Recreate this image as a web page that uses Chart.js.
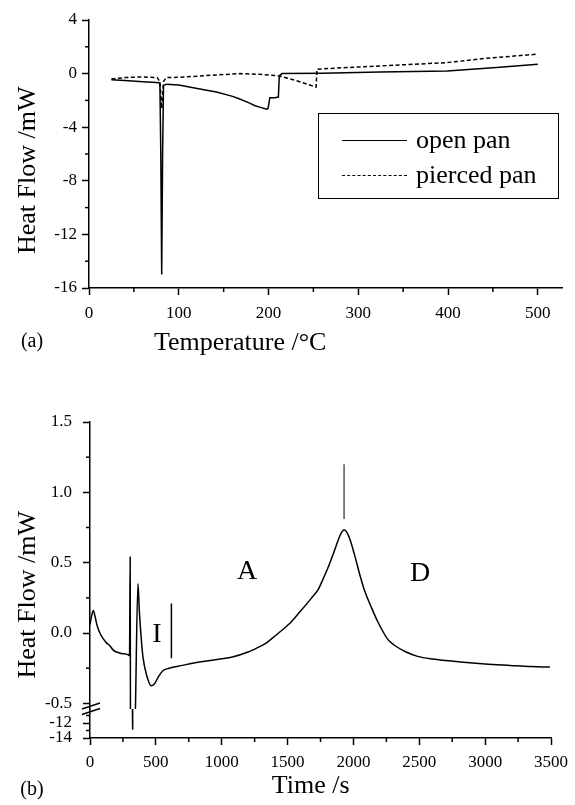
<!DOCTYPE html>
<html><head><meta charset="utf-8">
<script src="https://cdn.jsdelivr.net/npm/chart.js@4/dist/chart.umd.min.js"></script>
<style>
html,body{margin:0;padding:0;background:#fff;}
body{width:575px;height:805px;position:relative;overflow:hidden;font-family:"Liberation Serif","Times New Roman",serif;color:#000;}
canvas{position:absolute;left:0;}
#ca{top:0;}
#cb{top:360px;}
.lbl{position:absolute;white-space:nowrap;line-height:1;transform:translate(-50%,-50%);}
#legend{position:absolute;left:318px;top:113px;width:241px;height:86px;border:1.5px solid #000;box-sizing:border-box;font-size:26px;}
.row{position:absolute;left:0;height:26px;display:flex;align-items:center;}
.sample{width:65px;margin-left:23px;margin-right:9px;height:0;}
</style>
</head><body>
<canvas id="ca" width="575" height="360"></canvas>
<canvas id="cb" width="575" height="445"></canvas>
<div id="legend">
  <div class="row" style="top:13px"><div class="sample" style="border-top:1.5px solid #000"></div><span>open pan</span></div>
  <div class="row" style="top:48px"><div class="sample" style="border-top:1.5px dashed #000"></div><span>pierced pan</span></div>
</div>
<div class="lbl" style="left:32px;top:340px;font-size:20px">(a)</div>
<div class="lbl" style="left:32px;top:788px;font-size:20px">(b)</div>
<div class="lbl" style="left:247px;top:570px;font-size:28px">A</div>
<div class="lbl" style="left:420px;top:572px;font-size:28px">D</div>
<div class="lbl" style="left:157px;top:633px;font-size:28px">I</div>
<script>
// ---------- (a) DSC vs temperature ----------
const openT  = [25,40,60,75,79,80,81,82,83,86,100,131,142,160,168,179,185,190,198,199.5,201.5,207,211,212,215,260,324,399,454,500];
const openHF = [-0.45,-0.52,-0.6,-0.67,-0.7,-6,-15,-6,-0.9,-0.79,-0.85,-1.24,-1.38,-1.7,-1.9,-2.2,-2.4,-2.5,-2.66,-2.6,-1.8,-1.8,-1.75,-0.17,0.0,0.03,0.12,0.2,0.45,0.7];
const piercedT  = [25,40,57,76,79,81,83,86,100,130,168,190,211,213,230,253,254,287,324,399,443,500];
const piercedHF = [-0.4,-0.3,-0.25,-0.3,-0.6,-2.6,-0.6,-0.3,-0.28,-0.15,0.0,-0.05,-0.17,-0.2,-0.5,-1.0,0.33,0.45,0.57,0.82,1.15,1.45];
const aXMajor = [0,100,200,300,400,500];
const aXMinor = [50,150,250,350,450];
const aYMajor = [-16,-12,-8,-4,0,4];
const aYMinor = [-14,-10,-6,-2,2];

// ---------- (b) DSC vs time ----------
const timeS = [0,12,25,40,55,75,100,125,151,175,201,240,289,300,305,307,326,345,364,375,390,402,430,465,490,520,551,600,700,829,950,1081,1200,1280,1331,1380,1432,1507,1582,1683,1733,1770,1809,1850,1884,1910,1929,1950,1972,2010,2047,2085,2135,2185,2261,2311,2400,2487,2600,2813,3000,3190,3350,3492];
const heatB = [0.06,0.12,0.16,0.11,0.05,0.0,-0.04,-0.07,-0.09,-0.12,-0.135,-0.145,-0.154,-0.16,0.54,-0.54,null,-0.54,0.35,0.15,-0.05,-0.17,-0.3,-0.375,-0.36,-0.31,-0.27,-0.25,-0.23,-0.206,-0.19,-0.17,-0.135,-0.1,-0.075,-0.04,0.0,0.06,0.138,0.25,0.31,0.385,0.469,0.57,0.66,0.715,0.735,0.715,0.67,0.55,0.42,0.3,0.185,0.08,-0.045,-0.087,-0.135,-0.166,-0.185,-0.206,-0.22,-0.23,-0.238,-0.242];
const spikeT = [322,324];
const spikeHF = [-10.1,-12.9];
const markIT = [618,618];
const markIHF = [0.21,-0.18];
const markPeakT = [1929,1929];
const markPeakHF = [1.20,0.81];
const bXMajor = [0,500,1000,1500,2000,2500,3000,3500];
const bXMinor = [250,750,1250,1750,2250,2750,3250];
const bYMajor = [-0.5,0.0,0.5,1.0,1.5];
const bYMinor = [-0.25,0.25,0.75,1.25];
const bYLowMajor = [-14,-12];
const bYLowMinor = [-13,-11];

Chart.defaults.font.family = '"Liberation Serif","Times New Roman",serif';
Chart.defaults.color = '#000';

const pts = (xs, ys) => xs.map((x, i) => ({x: x, y: ys[i]}));
const MAJOR_LEN = 7, MINOR_LEN = 4;
const TICK_FONT = {size: 17};
const TITLE_FONT = {size: 26};

function setTicks(majors, minors) {
  return function(scale) {
    const all = majors.map(v => ({value: v, minor: false}))
      .concat(minors.map(v => ({value: v, minor: true})));
    all.sort((a, b) => a.value - b.value);
    scale.ticks = all;
  };
}
function axis(extra) {
  const base = {
    type: 'linear',
    grid: {display: true, drawOnChartArea: false, drawTicks: true, tickLength: MAJOR_LEN, tickWidth: 1.5,
      tickColor: c => (c.tick && c.tick.minor) ? 'rgba(0,0,0,0)' : '#000'},
    border: {display: true, color: '#000', width: 1.5}
  };
  return Object.assign(base, extra);
}
const minorTicks = {
  id: 'minorTicks',
  afterDraw(chart) {
    const ctx = chart.ctx;
    ctx.save();
    ctx.strokeStyle = '#000';
    ctx.lineWidth = 1.5;
    Object.values(chart.scales).forEach(s => {
      (s.ticks || []).forEach(t => {
        if (!t.minor) return;
        const p = s.getPixelForValue(t.value);
        ctx.beginPath();
        if (s.isHorizontal()) { ctx.moveTo(p, s.top); ctx.lineTo(p, s.top + MINOR_LEN); }
        else { ctx.moveTo(s.right, p); ctx.lineTo(s.right - MINOR_LEN, p); }
        ctx.stroke();
      });
    });
    ctx.restore();
  }
};
const lineDs = (label, data, extra) => Object.assign({
  label: label, data: data, borderColor: '#000', borderWidth: 1.5, pointRadius: 0,
  tension: 0, fill: false, spanGaps: false
}, extra || {});
const tickOpts = (pad, fmt) => ({autoSkip: false, maxRotation: 0, font: TICK_FONT, color: '#000', padding: pad,
  callback: (v, i, t) => t[i].minor ? '' : fmt(v)});

// ---------- chart (a) ----------
new Chart(document.getElementById('ca'), {
  type: 'line',
  data: {datasets: [
    lineDs('open pan', pts(openT, openHF)),
    lineDs('pierced pan', pts(piercedT, piercedHF), {borderDash: [4, 2.5]})
  ]},
  options: {
    responsive: false, animation: false, events: [],
    layout: {padding: {left: 0, top: 20, right: 13, bottom: 0}},
    plugins: {legend: {display: false}, tooltip: {enabled: false}},
    scales: {
      x: axis({min: 0, max: 527, afterBuildTicks: setTicks(aXMajor, aXMinor),
        afterFit: s => { s.height = 72; },
        ticks: tickOpts(8, v => String(v)),
        title: {display: true, align: 'start', text: '          Temperature /°C', font: TITLE_FONT, padding: {top: 0, bottom: 1}}}),
      y: axis({min: -16, max: 4, afterBuildTicks: setTicks(aYMajor, aYMinor),
        afterFit: s => { s.width = 89; },
        ticks: tickOpts(5, v => String(v)),
        title: {display: true, text: 'Heat Flow /mW     ', font: TITLE_FONT, padding: {top: 13, bottom: 0}}})
    }
  },
  plugins: [minorTicks]
});

// ---------- chart (b) ----------
const breakMarks = {
  id: 'breakMarks',
  afterDraw(chart) {
    const s = chart.scales.yUp;
    const ctx = chart.ctx;
    const x = s.right, y = s.bottom;
    ctx.save();
    ctx.strokeStyle = '#000';
    ctx.lineWidth = 1.5;
    [-3, 2.5].forEach(d => {
      ctx.beginPath();
      ctx.moveTo(x - 8, y + d + 3);
      ctx.lineTo(x + 10, y + d - 3);
      ctx.stroke();
    });
    ctx.restore();
  }
};
new Chart(document.getElementById('cb'), {
  type: 'line',
  data: {datasets: [
    lineDs('heat flow', pts(timeS, heatB), {yAxisID: 'yUp', cubicInterpolationMode: 'monotone'}),
    lineDs('spike', pts(spikeT, spikeHF), {yAxisID: 'yLow'}),
    lineDs('I marker', pts(markIT, markIHF), {yAxisID: 'yUp'}),
    lineDs('peak marker', pts(markPeakT, markPeakHF), {yAxisID: 'yUp', borderColor: '#555'})
  ]},
  options: {
    responsive: false, animation: false, events: [],
    layout: {padding: {left: 0, top: 62, right: 22, bottom: 0}},
    plugins: {legend: {display: false}, tooltip: {enabled: false}},
    scales: {
      x: axis({min: 0, max: 3500, afterBuildTicks: setTicks(bXMajor, bXMinor),
        afterFit: s => { s.height = 67; },
        ticks: tickOpts(7, v => String(v)),
        title: {display: true, text: 'Time /s   ', font: TITLE_FONT, padding: {top: 0, bottom: 3}}}),
      yLow: axis({position: 'left', stack: 'hf', stackWeight: 29, min: -14, max: -10.13,
        afterBuildTicks: setTicks(bYLowMajor, bYLowMinor),
        afterFit: s => { s.width = 90; },
        ticks: tickOpts(11, v => String(v))}),
      yUp: axis({position: 'left', stack: 'hf', stackWeight: 287, min: -0.54, max: 1.5,
        afterBuildTicks: setTicks(bYMajor, bYMinor),
        afterFit: s => { s.width = 90; },
        ticks: tickOpts(11, v => v.toFixed(1)),
        title: {display: true, text: 'Heat Flow /mW         ', font: TITLE_FONT, padding: {top: 13, bottom: 0}}})
    }
  },
  plugins: [minorTicks, breakMarks]
});
</script>
</body></html>
